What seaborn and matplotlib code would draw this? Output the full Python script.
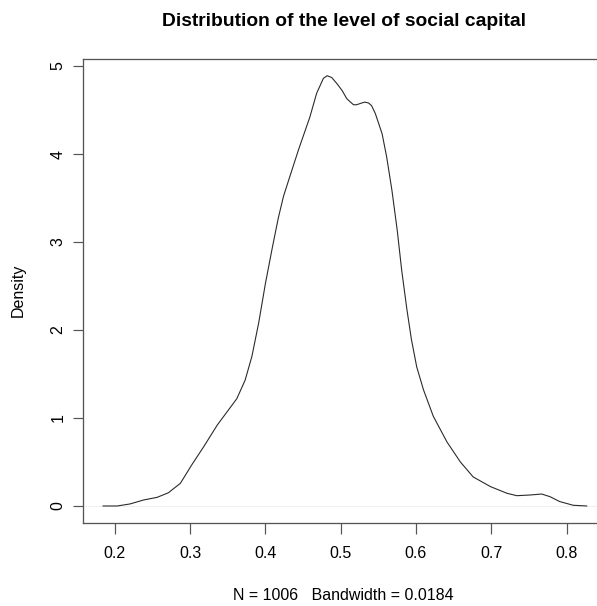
import numpy as np
import pandas as pd
import matplotlib
matplotlib.use("Agg")
import matplotlib.pyplot as plt
import seaborn as sns

# ---------------------------------
# Density curve
# ---------------------------------

level = [0.184, 0.203, 0.220, 0.238, 0.256, 0.271, 0.287, 0.302, 0.318,
         0.336, 0.349, 0.362, 0.373, 0.382, 0.391, 0.400, 0.409, 0.417,
         0.424, 0.433, 0.444, 0.459, 0.468, 0.477, 0.482, 0.488, 0.495,
         0.502, 0.508, 0.513, 0.517, 0.521, 0.528, 0.532, 0.537, 0.541,
         0.546, 0.555, 0.561, 0.568, 0.575, 0.581,
         0.588, 0.594, 0.601, 0.610, 0.623, 0.641, 0.659, 0.676, 0.699,
         0.721, 0.734, 0.752, 0.767, 0.778, 0.791, 0.809, 0.827]
density = [0.0, 0.0, 0.023, 0.068, 0.098, 0.15, 0.258, 0.466, 0.674,
           0.92, 1.07, 1.22, 1.43, 1.70, 2.08, 2.53, 2.93, 3.27,
           3.52, 3.76, 4.05, 4.42, 4.69, 4.86, 4.89, 4.87, 4.80,
           4.72, 4.63, 4.59, 4.56, 4.56, 4.58, 4.59, 4.58, 4.55,
           4.46, 4.23, 3.97, 3.59, 3.14, 2.68,
           2.23, 1.89, 1.58, 1.32, 1.02, 0.73, 0.50, 0.33, 0.22,
           0.144, 0.117, 0.125, 0.136, 0.106, 0.05, 0.008, 0.0]

x_ticks = [0.2, 0.3, 0.4, 0.5, 0.6, 0.7, 0.8]
y_ticks = [0, 1, 2, 3, 4, 5]

title = "Distribution of the level of social capital"
x_label = "N = 1006   Bandwidth = 0.0184"
y_label = "Density"

# ---------------------------------
# Plot
# ---------------------------------

sns.set_style("ticks")
plt.rcParams['font.family'] = ['Liberation Sans', 'DejaVu Sans']
plt.rcParams['text.color'] = 'black'
plt.rcParams['xtick.labelcolor'] = 'black'
plt.rcParams['ytick.labelcolor'] = 'black'

df = pd.DataFrame({"level": level, "density": density})

W, H = 597, 606
fig = plt.figure(figsize=(W / 72, H / 72), dpi=72)
ax = fig.add_axes([83.3 / W, 1 - 522.7 / H, (606.4 - 83.3) / W, (522.7 - 59) / H])

ax.axhline(0, color="#e6e6e6", lw=0.6, zorder=1)
sns.lineplot(data=df, x="level", y="density", color="#2a2a2a", lw=1.1,
             sort=False, ax=ax, zorder=2)

ax.set_xlim(0.158, 0.853)
ax.set_ylim(-0.19, 5.08)
ax.set_xticks(x_ticks)
ax.set_xticklabels([f"{t:.1f}" for t in x_ticks], fontsize=16)
ax.set_yticks(y_ticks)
ax.set_yticklabels([str(t) for t in y_ticks], fontsize=16, rotation=90, va="center")
ax.tick_params(axis="x", length=10.5, width=1.2, color="#555555", pad=13)
ax.tick_params(axis="y", length=10, width=1.2, color="#555555", pad=8)
ax.set_xlabel("")
ax.set_ylabel("")

for s in ax.spines.values():
    s.set_color("#555555")
    s.set_linewidth(1.3)

fig.text(344 / W, 1 - 26 / H, title, ha="center", va="baseline",
         fontsize=19.2, fontweight="bold")
fig.text(343.8 / W, 1 - 600 / H, x_label, ha="center", va="baseline", fontsize=16)
fig.text(18.5 / W, 1 - 290 / H, y_label, ha="center", va="center",
         fontsize=16, rotation=90)

fig.savefig("out.png", dpi=72)
